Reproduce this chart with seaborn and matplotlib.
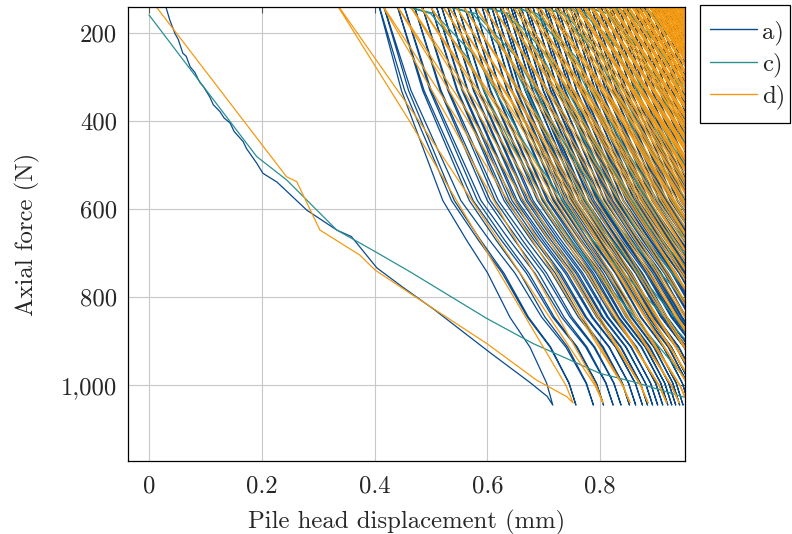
import numpy as np
import pandas as pd
import seaborn as sns
import matplotlib.pyplot as plt
from matplotlib.patches import Rectangle
from matplotlib.ticker import FuncFormatter

# first loading curves: displacement (mm), force (N)
a_load_x = [0.025, 0.030, 0.037, 0.046, 0.052, 0.060, 0.066, 0.073, 0.081, 0.090, 0.097, 0.108, 0.114,
            0.126, 0.133, 0.144, 0.151, 0.167, 0.173, 0.191, 0.202, 0.227, 0.280, 0.333, 0.359, 0.404,
            0.448, 0.507, 0.604, 0.675, 0.706, 0.716]
a_load_f = [120, 140, 170, 200, 214, 245, 252, 276, 288, 311, 322, 345, 362, 378, 392, 404, 423, 446,
            462, 495, 518, 538, 602, 647, 662, 733, 775, 829, 925, 993, 1025, 1045]

c_load_x = [0.0, 0.191, 0.244, 0.333, 0.401, 0.463, 0.599, 0.681, 0.800, 0.859, 0.947, 0.990]
c_load_f = [158, 480, 533, 647, 696, 742, 848, 905, 973, 992, 1026, 1045]

d_load_x = [0.0, 0.244, 0.262, 0.303, 0.374, 0.401, 0.463, 0.599, 0.687, 0.741, 0.752]
d_load_f = [118, 526, 537, 647, 704, 738, 791, 905, 988, 1026, 1040]

# load cycles: displacement at minimum force (top) and at maximum force (peak)
a_top = [0.404, 0.412, 0.436, 0.448, 0.466, 0.480, 0.496, 0.505, 0.514, 0.525, 0.534, 0.543, 0.555,
         0.564, 0.573, 0.586, 0.595, 0.603, 0.609, 0.618, 0.622, 0.631, 0.637, 0.641, 0.650, 0.655,
         0.663, 0.667, 0.676, 0.684, 0.688, 0.697, 0.701, 0.709, 0.716, 0.720, 0.729, 0.734, 0.742,
         0.747, 0.752, 0.761, 0.765, 0.774, 0.780, 0.784, 0.793, 0.797, 0.805, 0.812, 0.816, 0.825,
         0.829, 0.836, 0.843, 0.847, 0.856, 0.860, 0.867, 0.874, 0.878, 0.886, 0.891, 0.897, 0.905,
         0.909, 0.916, 0.922, 0.927, 0.935, 0.939, 0.946]
a_peak = [0.716, 0.757, 0.788, 0.806, 0.823, 0.837, 0.852, 0.863, 0.875, 0.884, 0.893, 0.902, 0.911,
          0.920, 0.927, 0.934, 0.941, 0.947, 0.958, 0.967, 0.972, 0.981, 0.985, 0.995, 0.999, 1.004,
          1.013, 1.017, 1.026, 1.030, 1.038, 1.046, 1.050, 1.059, 1.063, 1.071, 1.078, 1.082, 1.091,
          1.095, 1.103, 1.110, 1.114, 1.123, 1.127, 1.135, 1.142, 1.146, 1.155, 1.159, 1.166, 1.174,
          1.178, 1.187, 1.191, 1.197, 1.205, 1.209, 1.218, 1.221, 1.228, 1.236, 1.239, 1.248, 1.251,
          1.258, 1.266, 1.269, 1.278, 1.281, 1.287, 1.296, 1.299]

c_top = [0.445, 0.520, 0.580, 0.630, 0.680, 0.720, 0.760, 0.800, 0.840, 0.880, 0.920]
c_peak = [0.990, 1.060, 1.120, 1.170, 1.210, 1.250, 1.290, 1.320, 1.350, 1.380, 1.410, 1.440]

d_top = [0.326, 0.406, 0.431, 0.454, 0.472, 0.489, 0.511, 0.521, 0.534, 0.548, 0.569, 0.583, 0.599,
         0.614, 0.622, 0.636, 0.643, 0.657, 0.663, 0.676, 0.682, 0.694, 0.699, 0.710, 0.716, 0.725,
         0.732, 0.739, 0.747, 0.751, 0.760, 0.764, 0.772, 0.776, 0.784, 0.787, 0.794, 0.799, 0.804,
         0.810, 0.813, 0.820, 0.823, 0.829, 0.832, 0.838, 0.840, 0.846, 0.849, 0.854, 0.857, 0.862,
         0.864, 0.870, 0.872, 0.877, 0.880, 0.884, 0.887, 0.891, 0.894, 0.898, 0.901, 0.905, 0.908,
         0.911, 0.915, 0.918, 0.921, 0.925, 0.928, 0.931, 0.935, 0.938, 0.941, 0.945, 0.948]
d_peak = [0.752, 0.805, 0.853, 0.885, 0.918, 0.940, 0.955, 0.970, 0.980, 0.990, 1.005, 1.025, 1.040,
          1.055, 1.072, 1.084, 1.094, 1.105, 1.115, 1.126, 1.134, 1.145, 1.152, 1.162, 1.168, 1.178,
          1.183, 1.193, 1.197, 1.207, 1.211, 1.219, 1.226, 1.231, 1.238, 1.242, 1.249, 1.253, 1.260,
          1.263, 1.270, 1.274, 1.279, 1.285, 1.288, 1.294, 1.297, 1.302, 1.305, 1.310, 1.313, 1.318,
          1.321, 1.326, 1.329, 1.334, 1.337, 1.341, 1.345, 1.348, 1.352, 1.355, 1.359, 1.362, 1.366,
          1.369, 1.373, 1.376, 1.380, 1.383, 1.386, 1.390, 1.393, 1.396, 1.400, 1.403, 1.406, 1.410]

# typical branch shape: share of the top->peak displacement reached at each force
a_shape_f = [120, 330, 580, 670, 745, 845, 913, 995, 1045]
a_shape_s = [0.0, 0.14, 0.375, 0.51, 0.63, 0.756, 0.87, 0.965, 1.0]
c_shape_f = [135, 155, 255, 450, 640, 1045]
c_shape_s = [0.0, 0.10, 0.22, 0.36, 0.52, 1.0]
d_shape_f = [120, 400, 1000, 1040]
d_shape_s = [0.0, 0.32, 0.97, 1.0]


def cycle_path(load_x, load_f, tops, peaks, shape_f, shape_s):
    xs = list(load_x)
    fs = list(load_f)
    sf = np.array(shape_f)
    ss = np.array(shape_s)
    for i, top in enumerate(tops):
        # unloading back to the top, then reloading to the next peak
        xs += list(top + ss[::-1] * (peaks[i] - top))
        fs += list(sf[::-1])
        xs += list(top + ss * (peaks[i + 1] - top))
        fs += list(sf)
    return xs, fs


frames = []
for name, args in [("a)", (a_load_x, a_load_f, a_top, a_peak, a_shape_f, a_shape_s)),
                   ("c)", (c_load_x, c_load_f, c_top, c_peak, c_shape_f, c_shape_s)),
                   ("d)", (d_load_x, d_load_f, d_top, d_peak, d_shape_f, d_shape_s))]:
    xs, fs = cycle_path(*args)
    frames.append(pd.DataFrame({"disp": xs, "force": fs, "test": name}))
df = pd.concat(frames, ignore_index=True)

sns.set_theme(style="white")
plt.rcParams["font.family"] = ["cmr10", "DejaVu Serif"]
plt.rcParams["mathtext.fontset"] = "cm"
plt.rcParams["axes.unicode_minus"] = False

W, H = 792, 534
fig = plt.figure(figsize=(7.92, 5.34), dpi=100)
ax = fig.add_axes([128 / W, 1 - 461 / H, 557 / W, 454 / H])

palette = {"a)": "#0a4b8f", "c)": "#2a9090", "d)": "#f39a12"}
sns.lineplot(data=df, x="disp", y="force", hue="test", palette=palette, sort=False,
             estimator=None, linewidth=0.9, ax=ax)

ax.set_xlim(-0.0372, 0.9504)
ax.set_ylim(1172, 140)
ax.set_xticks([0, 0.2, 0.4, 0.6, 0.8])
ax.set_yticks([200, 400, 600, 800, 1000])
ax.xaxis.set_major_formatter(FuncFormatter(lambda v, p: "0" if abs(v) < 1e-9 else f"{v:.1f}"))
ax.yaxis.set_major_formatter(FuncFormatter(lambda v, p: f"{v:,.0f}"))
ax.grid(True, color="#c8c8c8", linewidth=0.8)
ax.set_axisbelow(True)
ax.tick_params(direction="in", length=4, width=0.8, color="#555555", top=True, right=True,
               labelsize=17.8)
ax.tick_params(axis="x", pad=10)
ax.tick_params(axis="y", pad=8)
for sp in ax.spines.values():
    sp.set_color("black")
    sp.set_linewidth(0.9)
ax.set_xlabel("Pile head displacement (mm)", fontsize=17.8, labelpad=9)
ax.set_ylabel("Axial force (N)", fontsize=17.8, labelpad=15)

# legend outside on the right, with a plain black box
leg = ax.legend(loc="upper left", bbox_to_anchor=(710 / W, 1 - 20 / H),
                bbox_transform=fig.transFigure, frameon=False, fontsize=17.8,
                handlelength=1.9, handletextpad=0.2, borderpad=0, labelspacing=0.32,
                borderaxespad=0)
for line in leg.get_lines():
    line.set_linewidth(1.0)
fig.add_artist(Rectangle((700 / W, 1 - 123 / H), 90 / W, 118 / H, transform=fig.transFigure,
                         fill=False, edgecolor="black", linewidth=0.9))

fig.savefig("out.png", dpi=100)
